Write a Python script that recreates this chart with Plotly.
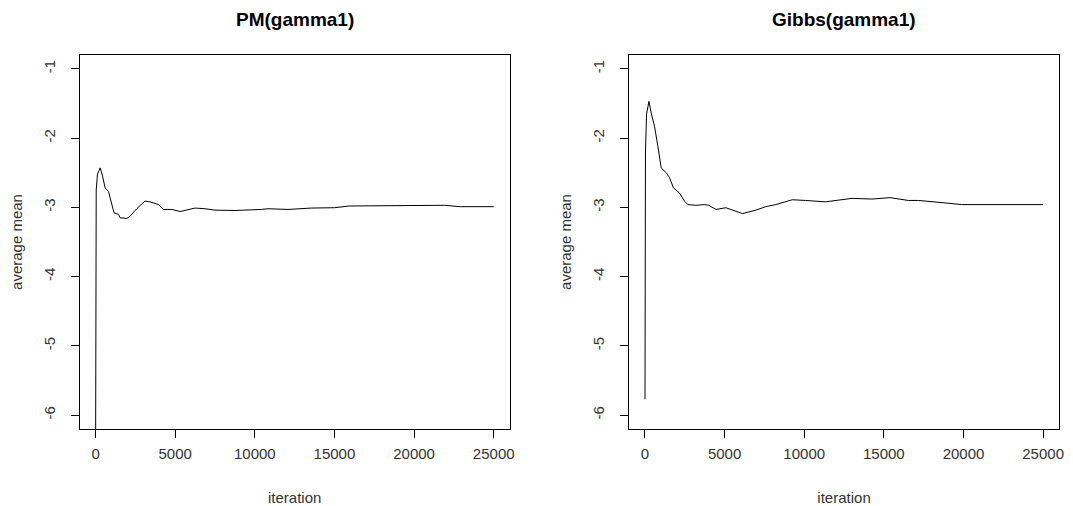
import plotly.graph_objects as go

# PM(gamma1) running average (iteration, value)
pm_iter = [1, 15, 40, 120, 290, 440, 600, 810, 1020, 1160, 1440, 1540, 1960, 2160,
           2580, 3100, 3410, 3730, 3960, 4270, 4790, 5310, 6250, 6880, 7500, 8750,
           9580, 10410, 10830, 12080, 13540, 15000, 15940, 17700, 20200, 21900,
           22900, 23950, 25000]
pm_vals = [-6.6, -3.9, -2.75, -2.52, -2.43, -2.55, -2.72, -2.77, -2.98, -3.08, -3.10,
           -3.15, -3.16, -3.13, -3.02, -2.91, -2.92, -2.94, -2.96, -3.03, -3.03, -3.06,
           -3.01, -3.02, -3.04, -3.045, -3.04, -3.03, -3.02, -3.03, -3.01, -3.005,
           -2.98, -2.98, -2.98, -2.97, -2.99, -2.99, -2.99]

# Gibbs(gamma1) running average
gibbs_iter = [1, 30, 100, 250, 394, 600, 810, 1020, 1330, 1540, 1790, 2160, 2480, 2690,
              3200, 3730, 4000, 4460, 5080, 6130, 6960, 7580, 8210, 9250, 10080, 10710,
              11330, 13000, 14250, 15390, 16540, 17160, 17790, 19040, 19880, 21540,
              23210, 24250, 25000]
gibbs_vals = [-5.77, -2.2, -1.65, -1.47, -1.64, -1.83, -2.12, -2.43, -2.50, -2.57, -2.72,
              -2.79, -2.91, -2.96, -2.97, -2.96, -2.97, -3.03, -3.005, -3.09, -3.04, -2.99,
              -2.96, -2.89, -2.90, -2.91, -2.92, -2.87, -2.88, -2.86, -2.90, -2.90, -2.91,
              -2.94, -2.96, -2.96, -2.96, -2.95, -2.96]

titles = ["PM(gamma1)", "Gibbs(gamma1)"]
x_ticks = [0, 5000, 10000, 15000, 20000, 25000]
y_ticks = [-6, -5, -4, -3, -2, -1]

# page body has an 8px margin, so the figure is drawn 8px smaller and offset
W, H = 1065, 498
FONT = "Liberation Sans, Arial, sans-serif"
TXT = "#333333"

fig = go.Figure()
fig.add_trace(go.Scatter(x=pm_iter, y=pm_vals, mode="lines",
                         line=dict(color="black", width=1), xaxis="x", yaxis="y",
                         showlegend=False, hoverinfo="skip"))
fig.add_trace(go.Scatter(x=gibbs_iter, y=gibbs_vals, mode="lines",
                         line=dict(color="black", width=1), xaxis="x2", yaxis="y2",
                         showlegend=False, hoverinfo="skip"))

doms = [(72 / W, 504 / W), (624 / W, 1056 / W)]
ydom = (77 / H, 451 / H)

def xaxis(dom, anchor):
    return dict(domain=list(dom), anchor=anchor, range=[-999, 26000],
                tickmode="array", tickvals=x_ticks, ticktext=[str(v) for v in x_ticks],
                ticks="outside", ticklen=8, tickcolor="black", tickwidth=1,
                ticklabelstandoff=3,
                showline=True, mirror=True, linecolor="black", linewidth=1,
                showgrid=False, zeroline=False,
                tickfont=dict(family=FONT, size=15, color=TXT),
                title=dict(text="iteration", standoff=32,
                           font=dict(family=FONT, size=15, color=TXT)))

def yaxis(anchor):
    return dict(domain=list(ydom), anchor=anchor, range=[-6.2, -0.8],
                tickmode="array", tickvals=y_ticks, ticktext=[str(v) for v in y_ticks],
                ticks="outside", ticklen=8, tickcolor="black", tickwidth=1,
                tickangle=-90, ticklabelstandoff=10,
                showline=True, mirror=True, linecolor="black", linewidth=1,
                showgrid=False, zeroline=False,
                tickfont=dict(family=FONT, size=15, color=TXT),
                title=dict(text="average mean", standoff=14,
                           font=dict(family=FONT, size=15, color=TXT)))

annotations = []
for (d0, d1), t in zip(doms, titles):
    annotations.append(dict(text="<b>%s</b>" % t, x=(d0 + d1) / 2, y=1,
                            xref="paper", yref="paper", xanchor="center", yanchor="top",
                            borderpad=0,
                            showarrow=False, font=dict(family=FONT, size=19, color="black")))

fig.update_layout(
    width=W, height=H,
    margin=dict(l=0, r=0, t=0, b=0),
    paper_bgcolor="white", plot_bgcolor="white",
    xaxis=xaxis(doms[0], "y"), yaxis=yaxis("x"),
    xaxis2=xaxis(doms[1], "y2"), yaxis2=yaxis("x2"),
    annotations=annotations,
)
fig.write_html("out.html")
